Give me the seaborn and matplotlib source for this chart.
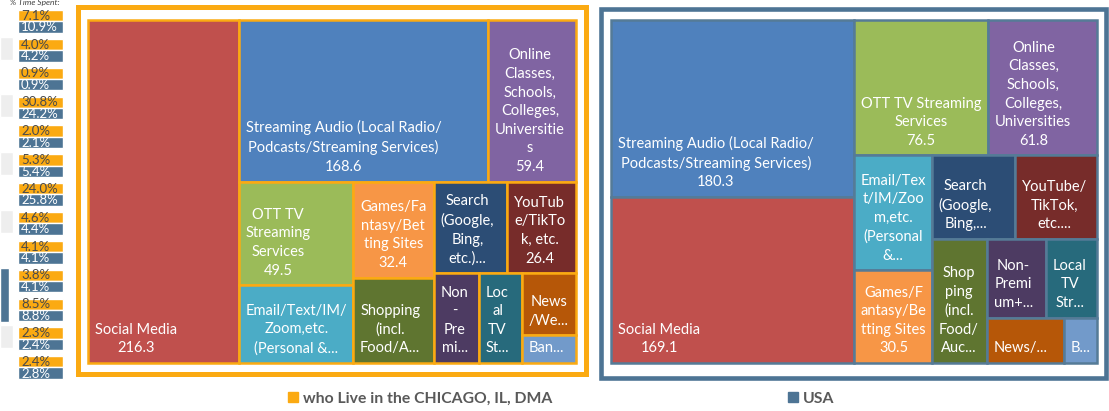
import matplotlib
matplotlib.use("Agg")
import matplotlib.pyplot as plt
import matplotlib.patches as mpatches
import seaborn as sns

# categories in the order of the side "% Time Spent" table
categories = ["OTT TV Streaming Services", "Search", "Banking", "Social Media", "News/Weather",
              "Email/Text/IM/Zoom", "Streaming Audio", "Games/Fantasy/Betting Sites", "Shopping",
              "YouTube/TikTok", "Online Classes", "Local TV Streaming", "Non-Premium"]

chicago_pct = [7.1, 4.0, 0.9, 30.8, 2.0, 5.3, 24.0, 4.6, 4.1, 3.8, 8.5, 2.3, 2.4]
usa_pct = [10.9, 4.2, 0.9, 24.2, 2.1, 5.4, 25.8, 4.4, 4.1, 4.1, 8.8, 2.4, 2.8]

# minutes (values that are hidden by truncated labels are estimated from the %)
chicago_minutes = [49.5, 28.1, 6.3, 216.3, 14.0, 37.2, 168.6, 32.4, 28.8, 26.4, 59.4, 16.2, 16.9]
usa_minutes = [76.5, 29.3, 6.3, 169.1, 14.7, 37.7, 180.3, 30.5, 28.5, 28.7, 61.8, 16.8, 19.6]

# tile labels as they appear (wrapped / truncated)
chicago_labels = ["OTT TV\nStreaming\nServices\n49.5", "Search\n(Google,\nBing,\netc.)...", "Ban...",
                  "Social Media\n216.3", "News\n/We...", "Email/Text/IM/\nZoom,etc.\n(Personal &...",
                  "Streaming Audio (Local Radio/\nPodcasts/Streaming Services)\n168.6",
                  "Games/Fa\nntasy/Bet\nting Sites\n32.4", "Shopping\n(incl.\nFood/A...",
                  "YouTub\ne/TikTo\nk, etc.\n26.4",
                  "Online\nClasses,\nSchools,\nColleges,\nUniversitie\ns\n59.4",
                  "Loc\nal\nTV\nSt...", "Non\n-\nPre\nmi..."]
usa_labels = ["OTT TV Streaming\nServices\n76.5", "Search\n(Google,\nBing,...", "B...",
              "Social Media\n169.1", "News/...", "Email/Tex\nt/IM/Zoo\nm,etc.\n(Personal\n&...",
              "Streaming Audio (Local Radio/\nPodcasts/Streaming Services)\n180.3",
              "Games/F\nantasy/Be\ntting Sites\n30.5", "Shop\nping\n(incl.\nFood/\nAuc...",
              "YouTube/\nTikTok,\netc....",
              "Online\nClasses,\nSchools,\nColleges,\nUniversities\n61.8",
              "Local\nTV\nStr...", "Non-\nPremi\num+..."]

tile_colors = ["#9BBB59", "#2C4D75", "#729ACA", "#C0504D", "#B65708", "#4BACC6", "#4F81BD",
               "#F79646", "#5F7530", "#772C2A", "#8064A2", "#276A7C", "#4D3B62"]

CHI = "#FBAA12"
USA = "#4D7494"

sns.set_theme(style="white")
plt.rcParams['font.family'] = ['Lato', 'DejaVu Sans']

FW, FH = 1109, 411
fig = plt.figure(figsize=(FW / 100, FH / 100), dpi=100)


def px_axes(x0, y0, x1, y1):
    return fig.add_axes([x0 / FW, 1 - y1 / FH, (x1 - x0) / FW, (y1 - y0) / FH])


def worst(areas, side):
    t = sum(areas) / side
    return max(max(t / (a / t), (a / t) / t) for a in areas)


def treemap_layout(values, w, h, lone_ok=2.45):
    # squarified strips, but a single tile is kept alone if it is already squarish enough
    order = sorted(range(len(values)), key=lambda i: -values[i])
    total = sum(values)
    areas = {i: values[i] / total * w * h for i in order}
    rects = {}
    x, y = 0.0, 0.0
    rest = order[:]
    while rest:
        side = min(w, h)
        strip = [rest[0]]
        cur = worst([areas[rest[0]]], side)
        if cur > lone_ok:
            for j in rest[1:]:
                nxt = worst([areas[k] for k in strip] + [areas[j]], side)
                if nxt > cur:
                    break
                strip.append(j)
                cur = nxt
        rest = rest[len(strip):]
        s = sum(areas[k] for k in strip)
        if w >= h:
            t = s / h
            yy = y
            for k in strip:
                rects[k] = (x, yy, t, areas[k] / t)
                yy += areas[k] / t
            x += t
            w -= t
        else:
            t = s / w
            xx = x
            for k in strip:
                rects[k] = (xx, y, areas[k] / t, t)
                xx += areas[k] / t
            y += t
            h -= t
    return rects


def draw_treemap(box, values, labels, edge):
    ax = px_axes(*box)
    W, H = box[2] - box[0], box[3] - box[1]
    rects = treemap_layout(values, W, H)
    for i, (x, y, w, h) in rects.items():
        ax.bar(x, h, width=w, bottom=y, align='edge', color=tile_colors[i],
               edgecolor=edge, linewidth=1.8, clip_on=False)
        ax.annotate(labels[i], xy=(x, y + h), xytext=(5, 5.5), textcoords='offset points',
                    ha='left', va='bottom', multialignment='center', color='white',
                    fontsize=10.5, linespacing=1.42)
    ax.set_xlim(0, W)
    ax.set_ylim(H, 0)
    ax.axis('off')
    return ax


draw_treemap((88, 20, 576, 363), chicago_minutes, chicago_labels, CHI)
draw_treemap((611, 20, 1097, 363), usa_minutes, usa_labels, "#557B97")

# outer frames
fig.add_artist(mpatches.Rectangle((77.5 / FW, 1 - 373.5 / FH), 508 / FW, 366 / FH,
                                  transform=fig.transFigure, fill=False, ec=CHI, lw=3.6))
fig.add_artist(mpatches.Rectangle((601 / FW, 1 - 377.5 / FH), 504.5 / FW, 368 / FH,
                                  transform=fig.transFigure, fill=False, ec=USA, lw=3.3))

# side table of % time spent
n = len(categories)
axp = px_axes(0, 10, 75, 10 + n * 28.85)
rows = list(range(n))
band_rows = [1, 3, 5, 7, 11]
for r in band_rows:
    axp.barh(r - 0.08, 13, height=0.8, left=0, align='edge', color="#EEEEEE")
axp.barh(9 - 0.05, 9, height=1.85, left=0, align='edge', color=USA)
axp.barh(rows, 45, height=0.39, left=18, align='edge', color=CHI)
axp.barh([r + 0.39 for r in rows], 45, height=0.40, left=18, align='edge', color=USA)
for r in rows:
    axp.text(21, r + 0.2, f"{chicago_pct[r]:.1f}%", va='center', ha='left',
             fontsize=9.5, color="#4A4A4A")
    axp.text(21, r + 0.6, f"{usa_pct[r]:.1f}%", va='center', ha='left',
             fontsize=9.5, color="white")
axp.set_xlim(0, 75)
axp.set_ylim(n, 0)
axp.axis('off')
fig.text(10 / FW, 1 - 2 / FH, "% Time Spent:", fontsize=6, style='italic',
         color="#404040", va='center', ha='left')

# legend
leg_font = dict(weight='bold', size=11.3)
fig.legend(handles=[mpatches.Patch(color=CHI)], labels=["who Live in the CHICAGO, IL, DMA"],
           loc='center left', bbox_to_anchor=(274 / FW, 1 - 399 / FH), frameon=False,
           handlelength=0.6, handleheight=0.6, handletextpad=0.35, prop=leg_font,
           labelcolor="#595959")
fig.legend(handles=[mpatches.Patch(color=USA)], labels=["USA"],
           loc='center left', bbox_to_anchor=(774 / FW, 1 - 399 / FH), frameon=False,
           handlelength=0.6, handleheight=0.6, handletextpad=0.35, prop=leg_font,
           labelcolor="#595959")

fig.savefig("out.png", dpi=100, facecolor="white")
